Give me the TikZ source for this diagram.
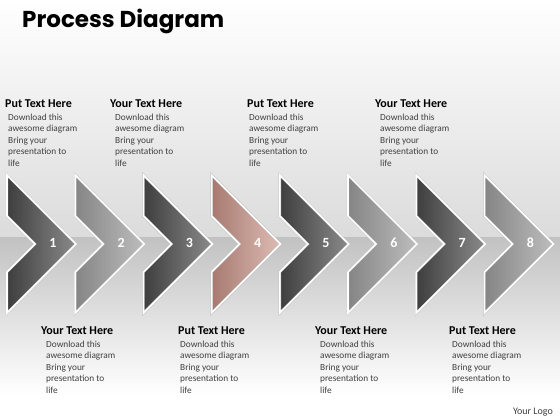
\documentclass[tikz,border=0pt]{standalone}
\usepackage{fontspec}
\setmainfont{Carlito}
\newfontfamily\titlefont{Poppins}
\usetikzlibrary{positioning}
\definecolor{darkL}{HTML}{3E3E3E}
\definecolor{darkR}{HTML}{8A8A8A}
\definecolor{lightL}{HTML}{858585}
\definecolor{lightR}{HTML}{BDBDBD}
\definecolor{roseL}{HTML}{A77A70}
\definecolor{roseR}{HTML}{DDBCB4}
\definecolor{bodygray}{HTML}{404040}
\tikzset{
  chevdark/.style={left color=darkL, right color=darkR},
  chevlight/.style={left color=lightL, right color=lightR},
  chevrose/.style={left color=roseL, right color=roseR},
  chevedge/.style={draw=gray!50, double=white, double distance=1.6pt, line join=miter},
  stepnum/.style={text=white, font=\bfseries\fontsize{14}{14}\selectfont, inner sep=0},
  headtext/.style={anchor=base west, inner sep=0, font=\bfseries\fontsize{12}{13}\selectfont},
  bodytext/.style={anchor=north west, inner sep=0, align=left, text=bodygray,
    font=\fontsize{9.3}{11.6}\selectfont},
}
\begin{document}
\begin{tikzpicture}[x=1pt,y=-1pt]
  \useasboundingbox (0,0) rectangle (560,420);
  % background
  \fill[top color=white, bottom color=black!14] (0,0) rectangle (560,237);
  \fill[top color=black!24, bottom color=white] (0,237) rectangle (560,395);
  \fill[white] (0,395) rectangle (560,420);
  \node[anchor=base west, inner sep=0, font=\titlefont\bfseries\fontsize{23}{26}\selectfont] (title) at (22,28) {Process Diagram};
  % chevrons
  \foreach \i/\sty in {1/chevdark,2/chevlight,3/chevdark,4/chevrose,5/chevdark,6/chevlight,7/chevdark,8/chevlight}{
    \pgfmathsetmacro{\xl}{7+68.2*(\i-1)}
    \filldraw[\sty, chevedge] (\xl,175) -- (\xl+69,244) -- (\xl,313) -- (\xl,272)
      -- (\xl+28,244) -- (\xl,216) -- cycle;
    \node[stepnum] (num\i) at (\xl+46,243) {\i};
  }
  % top texts
  \node[headtext] (headA1) at (5,107) {Put Text Here};
  \node[headtext] (headA2) at (110,107) {Your Text Here};
  \node[headtext] (headA3) at (247,107) {Put Text Here};
  \node[headtext] (headA4) at (375,107) {Your Text Here};
  \node[bodytext, below right=6.5pt and 3pt of headA1.base west] (bodyA1) {Download this\\awesome diagram\\Bring your\\presentation to\\life};
  \node[bodytext, below right=6.5pt and 5pt of headA2.base west] (bodyA2) {Download this\\awesome diagram\\Bring your\\presentation to\\life};
  \node[bodytext, below right=6.5pt and 2pt of headA3.base west] (bodyA3) {Download this\\awesome diagram\\Bring your\\presentation to\\life};
  \node[bodytext, below right=6.5pt and 5pt of headA4.base west] (bodyA4) {Download this\\awesome diagram\\Bring your\\presentation to\\life};
  % bottom texts
  \node[headtext] (headB1) at (41,334) {Your Text Here};
  \node[headtext] (headB2) at (178,334) {Put Text Here};
  \node[headtext] (headB3) at (315,334) {Your Text Here};
  \node[headtext] (headB4) at (449,334) {Put Text Here};
  \node[bodytext, below right=6.5pt and 5pt of headB1.base west] (bodyB1) {Download this\\awesome diagram\\Bring your\\presentation to\\life};
  \node[bodytext, below right=6.5pt and 2pt of headB2.base west] (bodyB2) {Download this\\awesome diagram\\Bring your\\presentation to\\life};
  \node[bodytext, below right=6.5pt and 5pt of headB3.base west] (bodyB3) {Download this\\awesome diagram\\Bring your\\presentation to\\life};
  \node[bodytext, below right=6.5pt and 3pt of headB4.base west] (bodyB4) {Download this\\awesome diagram\\Bring your\\presentation to\\life};
  \node[anchor=base east, inner sep=0, text=bodygray, font=\fontsize{10}{11}\selectfont] (logo) at (553,414) {Your Logo};
\end{tikzpicture}
\end{document}
